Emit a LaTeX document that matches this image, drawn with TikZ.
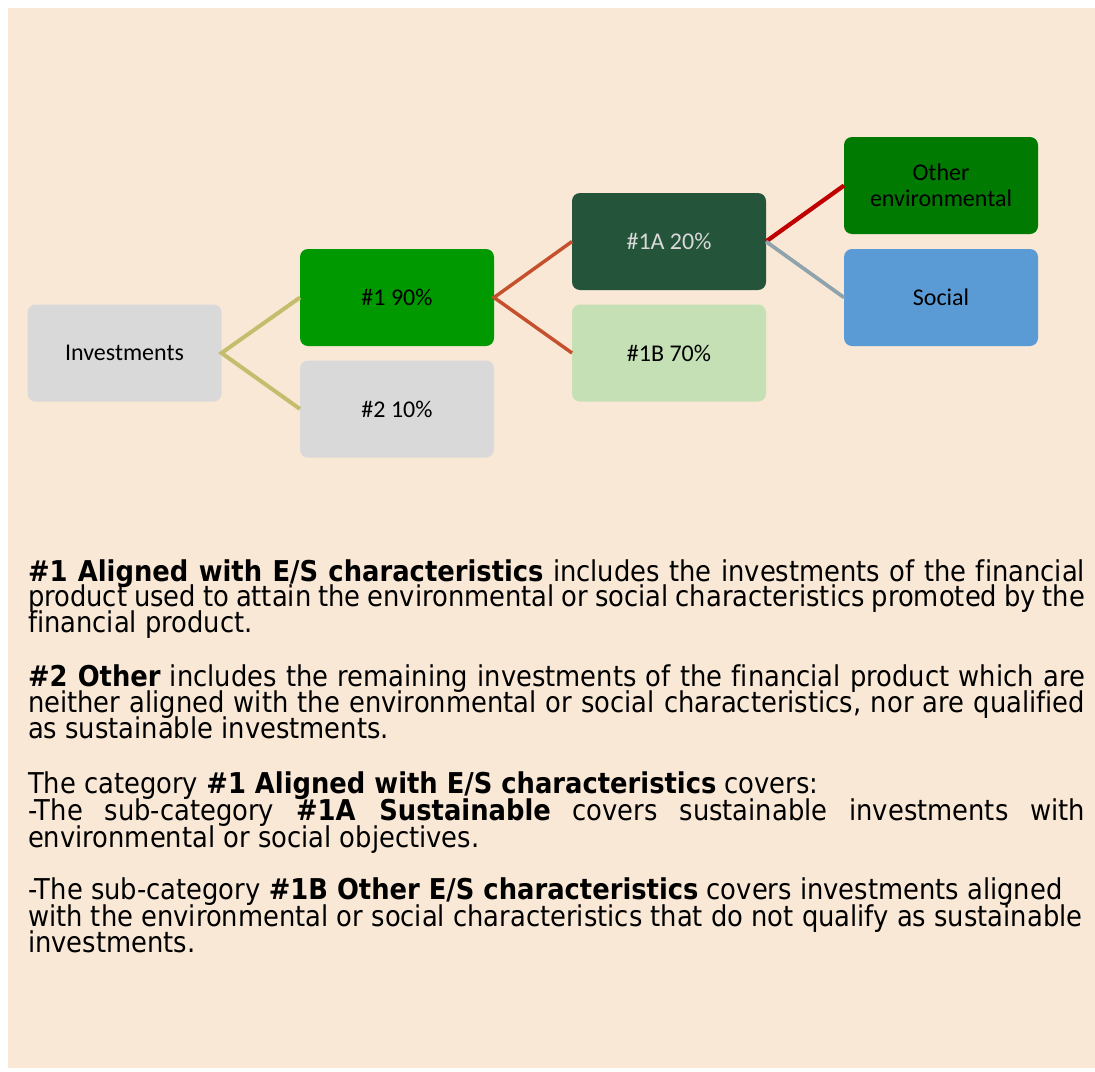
\documentclass[tikz,border=0pt]{standalone}
\usepackage{fontspec}
\setmainfont{DejaVu Sans}[FakeStretch=0.9, Ligatures=NoCommon]
\newfontfamily\calibri{Carlito}
\definecolor{peach}{HTML}{F9E8D6}
\definecolor{boxgray}{HTML}{D9D9D9}
\definecolor{greenA}{HTML}{009900}
\definecolor{darkgreen}{HTML}{245439}
\definecolor{lightgreen}{HTML}{C5E0B4}
\definecolor{envgreen}{HTML}{007A00}
\definecolor{socblue}{HTML}{5B9BD5}
\definecolor{khaki}{HTML}{C4BD6E}
\definecolor{rust}{HTML}{C5502E}
\definecolor{darkred}{HTML}{C00000}
\definecolor{slate}{HTML}{8FA3AD}
\newcommand\jline[1]{\makebox[792.75pt][s]{#1}}
\begin{document}
\begin{tikzpicture}[x=0.75pt,y=-0.75pt,
  box/.style={rounded corners=6pt, minimum width=145.5pt, minimum height=72.75pt,
    inner sep=0pt, outer sep=0pt, align=center,
    font=\calibri\fontsize{18}{19.5}\selectfont},
  body/.style={anchor=base west, inner sep=0pt, outer sep=0pt,
    font=\fontsize{21.5}{19.5}\selectfont},
  link/.style={line width=#1, line cap=butt}]
\useasboundingbox (0,0) rectangle (1095,1071);
\fill[white] (0,0) rectangle (1095,1071);
\fill[peach] (8,8) rectangle (1095,1068);

% boxes
\node[box, fill=boxgray] (inv) at (124.5,353) {Investments};
\node[box, fill=greenA] (n1) at (397,297.5) {\#1 90\%};
\node[box, fill=boxgray] (n2) at (397,409) {\#2 10\%};
\node[box, fill=darkgreen, text=boxgray] (n1a) at (669,241.5) {\#1A 20\%};
\node[box, fill=lightgreen] (n1b) at (669,353) {\#1B 70\%};
\node[box, fill=envgreen] (oe) at (941,185.5) {Other\\environmental};
\node[box, fill=socblue] (soc) at (941,297.5) {Social};

% connectors
\draw[link=3pt, khaki] (n1.west) -- (inv.east) -- (n2.west);
\draw[link=2.6pt, rust] (n1a.west) -- (n1.east) -- (n1b.west);
\draw[link=3.2pt, darkred] (n1a.east) -- (oe.west);
\draw[link=2.8pt, slate] (n1a.east) -- (soc.west);

% text
\node[body] (l1) at (28,581) {\jline{\textbf{\#1 Aligned with E/S characteristics} includes the investments of the financial}};
\node[body] (l2) at (28,606) {\jline{product used to attain the environmental or social characteristics promoted by the}};
\node[body] (l3) at (28,632) {financial product.};
\node[body] (l4) at (28,686) {\jline{\textbf{\#2 Other} includes the remaining investments of the financial product which are}};
\node[body] (l5) at (28,712) {\jline{neither aligned with the environmental or social characteristics, nor are qualified}};
\node[body] (l6) at (28,738) {as sustainable investments.};
\node[body] (l7) at (28,793) {The category \textbf{\#1 Aligned with E/S characteristics} covers:};
\node[body] (l8) at (28,820) {\jline{-The sub-category \textbf{\#1A Sustainable} covers sustainable investments with}};
\node[body] (l9) at (28,847) {environmental or social objectives.};
\node[body] (l10) at (28,899) {-The sub-category \textbf{\#1B Other E/S characteristics} covers investments aligned};
\node[body] (l11) at (28,926) {with the environmental or social characteristics that do not qualify as sustainable};
\node[body] (l12) at (28,952) {investments.};
\end{tikzpicture}
\end{document}
